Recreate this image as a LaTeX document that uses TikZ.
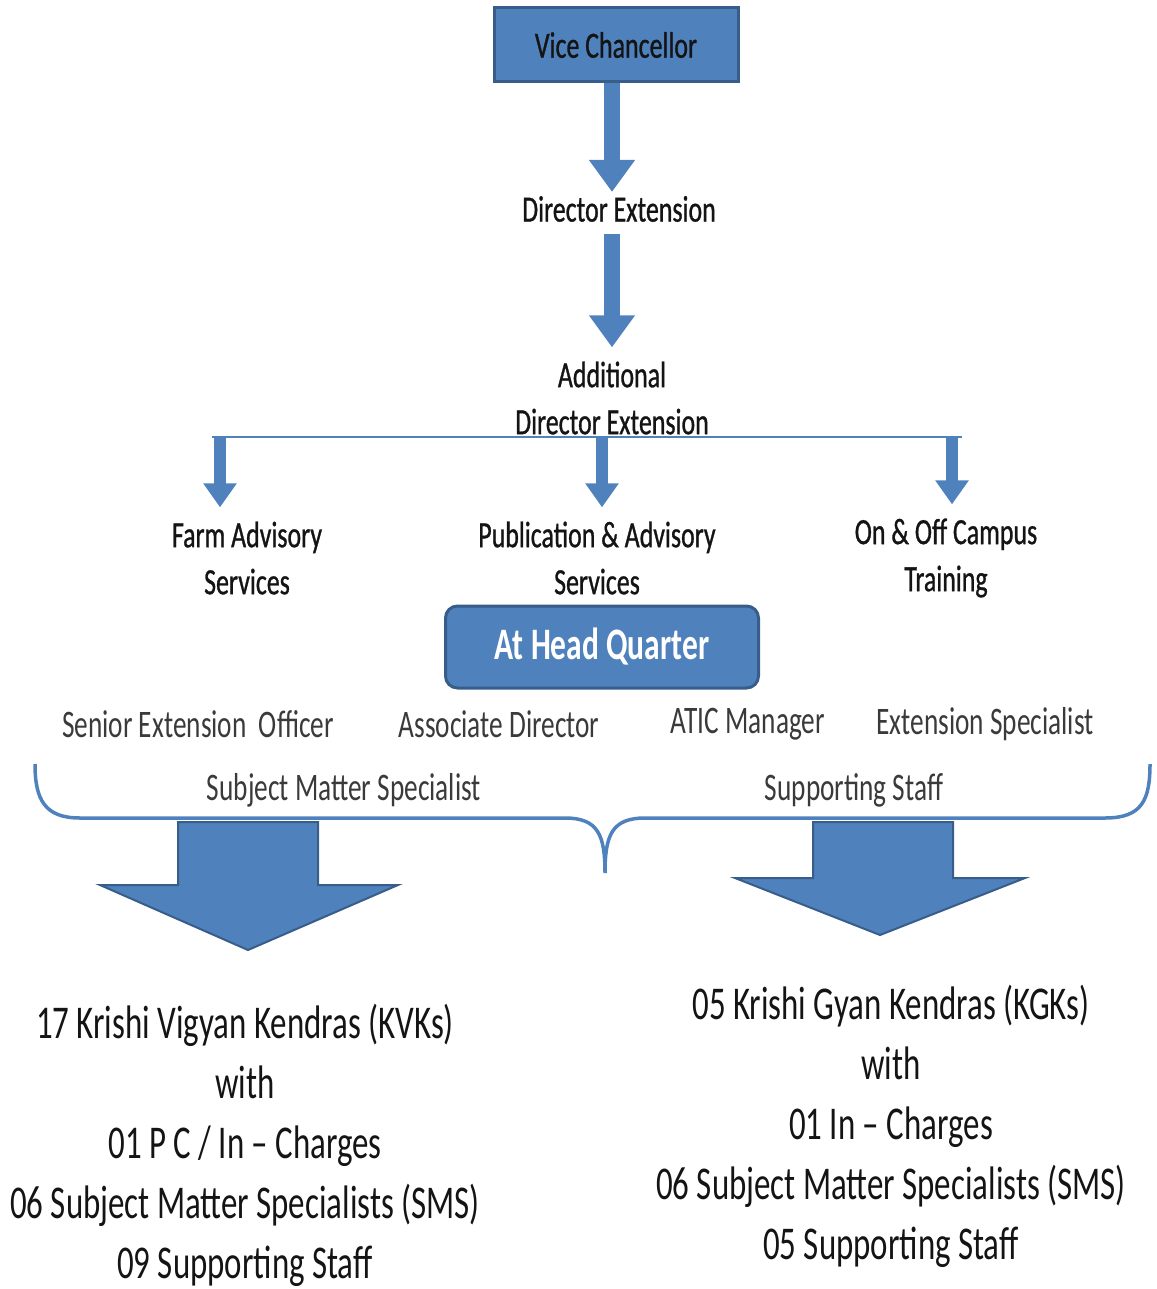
\documentclass[tikz,border=0pt]{standalone}
\usepackage{fontspec}
\setmainfont{Carlito}[FakeStretch=0.7]
\newfontfamily\labelfont{Carlito}[FakeStretch=0.7,FakeBold=0.8]
\usetikzlibrary{arrows.meta}
\definecolor{boxblue}{HTML}{4F81BD}
\definecolor{boxedge}{HTML}{385D8A}
\definecolor{inkgray}{HTML}{3A3A3A}
\definecolor{inkdark}{HTML}{141414}
\begin{document}
\begin{tikzpicture}[x=1pt,y=-1pt,
    fatarrow/.style={draw=boxblue,line width=16pt,-{Triangle[width=44pt,length=32pt]}},
    thinarrow/.style={draw=boxblue,line width=12pt,-{Triangle[width=32pt,length=24pt]}},
    bigarrow/.style={fill=boxblue,draw=boxedge,line width=2pt,line join=miter}]
        \useasboundingbox (0,0) rectangle (1156,1289);
        \begin{scope}[every node/.style={inner sep=0pt,align=center,text=inkdark,font=\labelfont\fontsize{37}{47}\selectfont}]
        \node[draw=boxedge,fill=boxblue,line width=3pt,minimum width=244pt,minimum height=74pt] (vc) at (616,45) {Vice Chancellor};
        \node (de) at (619,209) {Director Extension};
        \node (ade) at (612,398) {Additional\\Director Extension};
        \node (fas) at (247,558) {Farm Advisory\\Services};
        \node (pas) at (597,558) {Publication \& Advisory\\Services};
        \node (oct) at (946,558) {On \& Off Campus\\Training};
        \node[draw=boxedge,fill=boxblue,line width=3pt,rounded corners=12pt,minimum width=313pt,minimum height=82pt,
              text=white,font=\fontsize{45}{50}\selectfont\bfseries] (hq) at (602,647) {At Head Quarter};
        \end{scope}
        \begin{scope}[every node/.style={inner sep=0pt,text=inkgray,font=\fontsize{39}{44}\selectfont}]
        \node (seo) at (198,724) {Senior Extension~ Officer};
        \node (asd) at (499,724) {Associate Director};
        \node (atic) at (748,724) {ATIC Manager};
        \node (exs) at (985,724) {Extension Specialist};
        \node (sms) at (344,790) {Subject Matter Specialist};
        \node (sst) at (854,790) {Supporting Staff};
        \end{scope}
        \begin{scope}[every node/.style={inner sep=0pt,align=center,text=inkdark,font=\fontsize{47}{60}\selectfont}]
        \node (kvk) at (245,1145) {17 Krishi Vigyan Kendras (KVKs)\\with\\01 P C / In -- Charges\\06 Subject Matter Specialists (SMS)\\09 Supporting Staff};
        \node (kgk) at (891,1126) {05 Krishi Gyan Kendras (KGKs)\\with\\01 In -- Charges\\06 Subject Matter Specialists (SMS)\\05 Supporting Staff};
        \end{scope}
        % branch line
        \coordinate (bl) at (212,437);
        \coordinate (br) at (962,437);
        \coordinate (b1) at (220,437);
        \coordinate (b2) at (602,437);
        \coordinate (b3) at (952,437);
        \draw[boxblue,line width=2pt] (bl) -- (br);
        \begin{scope}[every path/.style={shorten >=4pt}]
        \path[fatarrow] (ade |- vc.south) -- (ade |- de.north);
        \path[fatarrow,shorten <=12pt,shorten >=14pt] (ade |- de.south) -- (ade.north);
        \path[thinarrow,shorten >=14pt] (b1) -- (b1 |- fas.north);
        \path[thinarrow,shorten >=14pt] (b2) -- (b2 |- pas.north);
        \path[thinarrow,shorten >=14pt] (b3) -- (b3 |- oct.north);
        \end{scope}
        % brace
        \draw[boxblue,line width=3.5pt] (35,764) .. controls (35,800) and (45,818) .. (80,818) -- (565,818)
            .. controls (598,818) and (605,835) .. (605,873) .. controls (605,835) and (612,818) .. (645,818)
            -- (1105,818) .. controls (1142,818) and (1150,800) .. (1150,764);
        % big arrows
        \filldraw[bigarrow] (178,822) -- (318,822) -- (318,885) -- (398,885) -- (248,950) -- (100,885) -- (178,885) -- cycle;
        \filldraw[bigarrow] (813,822) -- (953,822) -- (953,878) -- (1025,878) -- (880,935) -- (735,878) -- (813,878) -- cycle;
        \end{tikzpicture}
\end{document}
